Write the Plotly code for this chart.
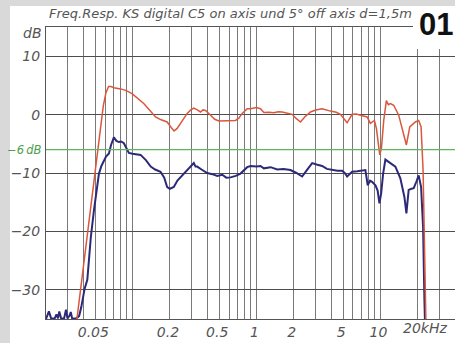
import math
import plotly.graph_objects as go

# Frequency response, KS digital C5 — on axis (red) and 5° off axis (blue), d = 1.5 m
# frequencies in kHz, levels in dB

on_axis_khz = [0.0353, 0.040, 0.045, 0.050, 0.055, 0.058, 0.061, 0.064, 0.067, 0.0706,
               0.080, 0.088, 0.099, 0.110, 0.123, 0.138, 0.153, 0.168, 0.190, 0.205,
               0.216, 0.228, 0.244, 0.260, 0.276, 0.295, 0.312, 0.333, 0.353, 0.370,
               0.388, 0.426, 0.460, 0.497, 0.580, 0.677, 0.720, 0.767, 0.841, 0.895,
               1.000, 1.077, 1.146, 1.260, 1.380, 1.500, 1.611, 1.780, 1.940, 2.100,
               2.264, 2.450, 2.725, 3.000, 3.388, 3.953, 4.400, 4.756, 5.050, 5.386,
               5.912, 6.400, 6.901, 7.815, 8.301, 8.950, 9.290, 9.690, 9.880, 10.19,
               10.64, 11.17, 11.60, 12.04, 12.80, 14.05, 15.42, 16.21, 17.26, 19.15,
               20.37, 21.30, 22.10, 22.65, 23.07, 23.30]
on_axis_db = [-35.5, -26.0, -17.5, -9.3, -2.3, 1.5, 3.8, 4.8, 4.8, 4.6,
              4.4, 4.15, 3.6, 2.8, 1.9, 0.7, -0.4, -0.85, -1.26, -2.2,
              -2.8, -2.4, -1.5, -0.6, 0.2, 0.8, 1.1, 0.8, 0.45, 0.8,
              0.7, -0.1, -0.8, -1.1, -1.0, -1.0, -0.6, 0.2, 1.0, 1.0,
              1.2, 1.0, 0.35, 0.4, 0.3, 0.5, 0.45, 0.2, 0.05, -0.7,
              -1.26, -0.4, 0.45, 0.8, 1.0, 0.6, 0.4, 0.05, -0.6, -1.4,
              0.05, 0.1, -0.1, -0.4, -1.5, -1.0, -2.4, -5.8, -6.9, -5.8,
              -1.0, 2.4, 1.7, 1.9, 1.6, -0.1, -3.2, -5.2, -2.1, -1.26,
              -1.0, -2.1, -9.5, -19.2, -31.7, -35.5]

off_axis_khz = [0.020, 0.0211, 0.022, 0.0235, 0.0243, 0.025, 0.0256, 0.0265, 0.028, 0.029,
                0.0298, 0.031, 0.0317, 0.0325, 0.035, 0.037, 0.0385, 0.0393, 0.041, 0.0431,
                0.044, 0.046, 0.0488, 0.051, 0.0535, 0.056, 0.0587, 0.061, 0.0644, 0.067,
                0.0706, 0.074, 0.0776, 0.081, 0.085, 0.089, 0.0933, 0.100, 0.116, 0.128,
                0.140, 0.152, 0.168, 0.180, 0.190, 0.200, 0.215, 0.230, 0.251, 0.276,
                0.300, 0.312, 0.322, 0.332, 0.360, 0.400, 0.440, 0.482, 0.530, 0.570,
                0.617, 0.680, 0.743, 0.800, 0.841, 0.895, 1.000, 1.077, 1.146, 1.300,
                1.469, 1.650, 1.880, 2.100, 2.336, 2.550, 2.812, 3.100, 3.388, 3.700,
                4.077, 4.500, 4.910, 5.150, 5.386, 5.700, 5.912, 6.500, 7.200, 7.566,
                7.900, 8.250, 8.570, 9.120, 9.500, 9.820, 10.14, 10.52, 10.97, 11.50,
                12.04, 13.21, 14.49, 15.62, 16.21, 16.91, 17.80, 18.57, 19.50, 20.37,
                21.30, 22.10, 22.65, 22.90]
off_axis_db = [-35.0, -33.7, -34.9, -34.9, -34.2, -34.9, -33.7, -34.9, -34.9, -33.4,
               -34.9, -34.4, -33.8, -34.9, -34.9, -34.5, -33.0, -31.7, -29.8, -28.3,
               -26.0, -21.0, -16.3, -12.8, -10.1, -8.8, -7.8, -7.2, -6.65, -5.2,
               -3.9, -4.5, -4.7, -4.6, -4.9, -5.8, -6.55, -6.7, -6.9, -7.8,
               -8.9, -9.4, -9.8, -10.8, -12.4, -12.7, -12.4, -11.3, -10.4, -9.5,
               -8.6, -8.3, -8.9, -8.9, -9.4, -10.0, -10.2, -10.5, -10.3, -10.8,
               -10.75, -10.5, -10.1, -9.4, -9.0, -8.8, -8.9, -8.8, -9.2, -9.0,
               -9.4, -9.3, -9.5, -10.0, -10.6, -9.5, -8.3, -8.6, -8.8, -9.3,
               -9.5, -9.6, -9.6, -10.0, -10.6, -10.2, -9.8, -9.7, -9.6, -9.5,
               -12.1, -11.3, -11.5, -12.1, -13.0, -15.2, -13.5, -10.1, -7.7, -8.0,
               -8.4, -8.9, -10.9, -14.1, -16.9, -12.9, -12.7, -12.6, -11.5, -10.4,
               -12.4, -19.2, -31.7, -35.5]

ref_level_db = -6

# grid: every 1-2-3...9 step per decade, labelled at a few of them
grid_khz = [0.02, 0.03, 0.04, 0.05, 0.06, 0.07, 0.08, 0.09,
            0.1, 0.2, 0.3, 0.4, 0.5, 0.6, 0.7, 0.8, 0.9,
            1, 2, 3, 4, 5, 6, 7, 8, 9,
            10, 20, 30, 40]
labelled_khz = {0.05: "0.05", 0.2: "0.2", 0.5: "0.5", 1: "1", 2: "2",
                5: "5", 10: "10"}
x_ticktext = [labelled_khz.get(v, "") for v in grid_khz]
last_label = "20kHz"

y_ticks = [-30, -20, -10, 0, 10]
y_ticktext = ["\u221230", "\u221220", "\u221210", "0", "10"]

W, H = 455, 343
ML, MR, MT, MB = 46, 0, 27, 24
PW, PH = W - ML - MR, H - MT - MB


def px_x(px):
    return (px - ML) / PW


def px_y(py):
    return (H - MB - py) / PH


TXT = "#555555"
FONT = "DejaVu Sans"

fig = go.Figure()
fig.add_trace(go.Scatter(x=off_axis_khz, y=off_axis_db, mode="lines",
                         line=dict(color="#2c2a78", width=2), showlegend=False))
fig.add_trace(go.Scatter(x=on_axis_khz, y=on_axis_db, mode="lines",
                         line=dict(color="#d9573c", width=1.5), showlegend=False))

fig.add_hline(y=ref_level_db, line=dict(color="#5fb45f", width=1.2))

fig.update_xaxes(type="log", range=[math.log10(0.02), math.log10(40)],
                 tickvals=grid_khz, ticktext=x_ticktext,
                 showgrid=True, gridcolor="#7a7a7a", gridwidth=1,
                 showline=True, linecolor="#555555", linewidth=1, mirror=True,
                 ticks="", zeroline=False, ticklabelshift=-2,
                 tickfont=dict(family=FONT, size=14, color=TXT, style="italic"))
fig.update_yaxes(range=[-35, 15], tickvals=y_ticks, ticktext=y_ticktext,
                 showgrid=True, gridcolor="#4d4d4d", gridwidth=1,
                 showline=True, linecolor="#555555", linewidth=1, mirror=True,
                 ticks="", zeroline=False, ticklabelstandoff=2,
                 tickfont=dict(family=FONT, size=14, color=TXT, style="italic"))

# white sheet on a grey page
fig.add_shape(type="rect", xref="paper", yref="paper", layer="below",
              x0=px_x(10), x1=px_x(W + 5), y0=px_y(H + 5), y1=px_y(6),
              fillcolor="white", line=dict(width=0))
# box behind the figure number
fig.add_shape(type="rect", xref="paper", yref="paper", layer="above",
              x0=px_x(413), x1=px_x(W + 5), y0=px_y(49), y1=px_y(6),
              fillcolor="white", line=dict(width=0))

fig.add_annotation(text="Freq.Resp. KS digital C5 on axis und 5\u00b0 off axis d=1,5m",
                   xref="paper", yref="paper", x=px_x(47), y=px_y(14),
                   xanchor="left", yanchor="middle", showarrow=False,
                   font=dict(family=FONT, size=13, color=TXT, style="italic"))
fig.add_annotation(text="<b>01</b>", xref="paper", yref="paper",
                   x=px_x(436), y=px_y(25), xanchor="center", yanchor="middle",
                   showarrow=False,
                   font=dict(family="Liberation Sans", size=31, color="#111111"))
fig.add_annotation(text="dB", xref="paper", yref="paper", x=px_x(44), y=px_y(33),
                   xanchor="right", yanchor="middle", showarrow=False,
                   font=dict(family=FONT, size=14, color=TXT, style="italic"))
fig.add_annotation(text="\u22126\u2009dB", xref="paper", yref="y", x=px_x(44), y=ref_level_db,
                   xanchor="right", yanchor="middle", showarrow=False,
                   font=dict(family=FONT, size=11.5, color="#4e9e4e", style="italic"))
fig.add_annotation(text=last_label, xref="paper", yref="paper", x=px_x(401), y=px_y(328),
                   xanchor="left", yanchor="middle", showarrow=False,
                   font=dict(family=FONT, size=14, color=TXT, style="italic"))

fig.update_layout(width=W, height=H,
                  margin=dict(l=ML, r=MR, t=MT, b=MB, pad=0),
                  paper_bgcolor="#d9d9d9", plot_bgcolor="white",
                  showlegend=False)

fig.write_html("out.html")
